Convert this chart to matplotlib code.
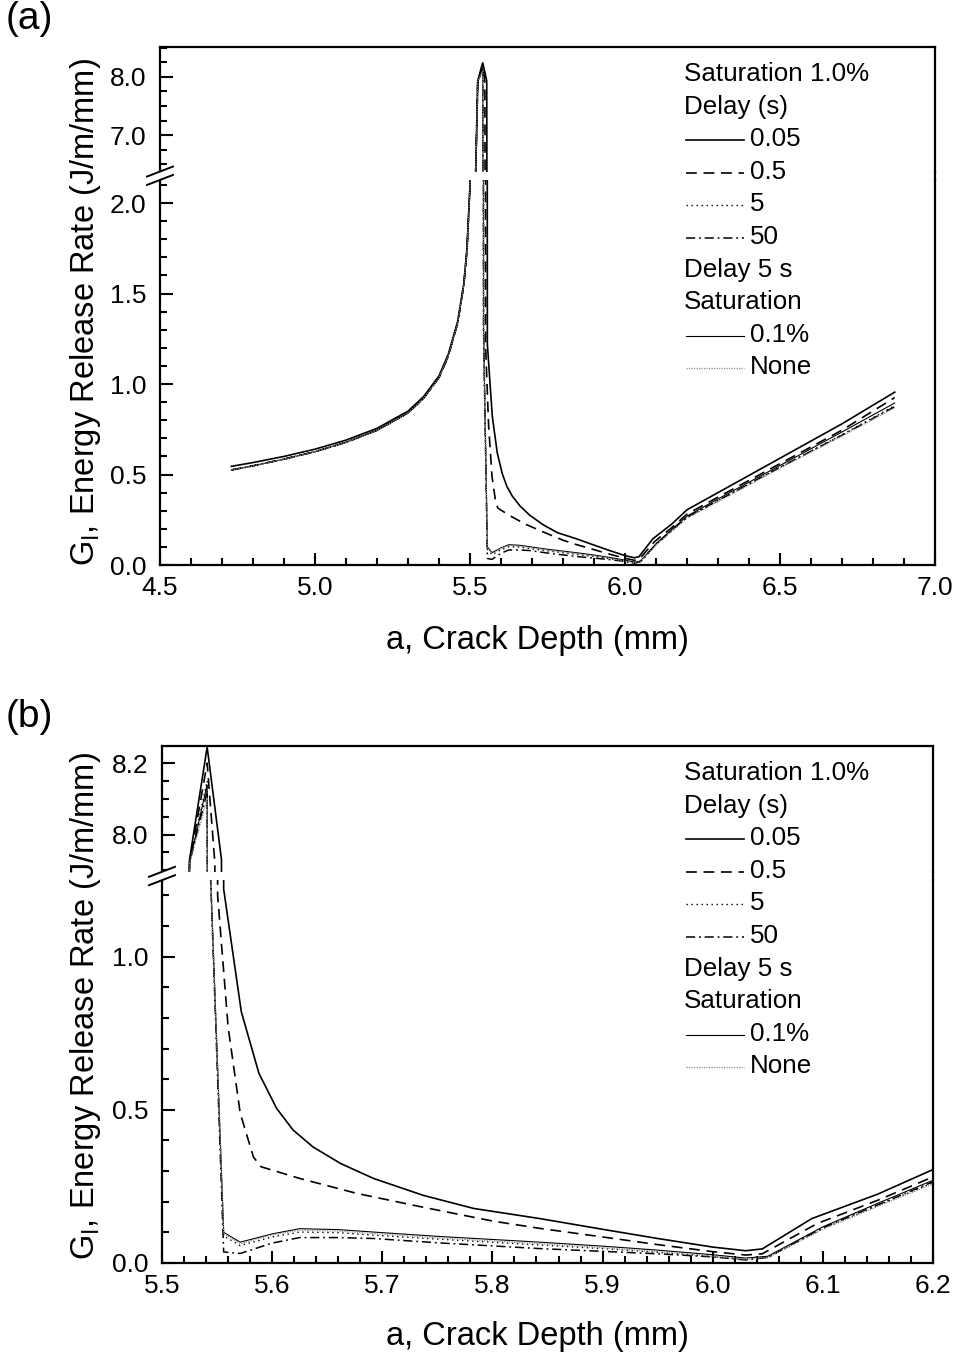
import matplotlib
matplotlib.use("Agg")
import matplotlib.pyplot as plt
from matplotlib.lines import Line2D
from matplotlib.patches import Polygon
from matplotlib.ticker import MultipleLocator, FormatStrFormatter

plt.rcParams['font.family'] = ['Liberation Sans', 'DejaVu Sans']
plt.rcParams['mathtext.default'] = 'regular'

# ---------------- data: crack depth a (mm) and G_I (J/m/mm) ----------------
# rising branch before the critical depth (common to all runs)
a_rise = [4.73, 4.80, 4.90, 5.00, 5.10, 5.20, 5.30, 5.35, 5.40, 5.43, 5.46, 5.48, 5.49, 5.50, 5.525]
G_rise_005 = [0.545, 0.566, 0.600, 0.640, 0.690, 0.755, 0.850, 0.930, 1.045, 1.165, 1.345, 1.555, 1.745, 2.10, 7.93]
G_rise_rest = [0.525, 0.548, 0.585, 0.626, 0.678, 0.744, 0.840, 0.920, 1.035, 1.155, 1.335, 1.545, 1.735, 2.09, 7.92]

# Saturation 1.0 %, delay 0.05 s
a_005 = [5.541, 5.554, 5.556, 5.572, 5.588, 5.604, 5.619, 5.637, 5.662, 5.692, 5.737, 5.783, 5.843,
         5.90, 5.95, 6.00, 6.03, 6.045, 6.09, 6.15, 6.20, 6.30, 6.50, 6.70, 6.87]
G_005 = [8.245, 7.93, 1.22, 0.82, 0.619, 0.505, 0.434, 0.379, 0.325, 0.276, 0.221, 0.178, 0.145,
         0.110, 0.080, 0.052, 0.040, 0.046, 0.145, 0.225, 0.305, 0.400, 0.590, 0.780, 0.955]

# Saturation 1.0 %, delay 0.5 s
a_05 = [5.541, 5.548, 5.5505, 5.560, 5.571, 5.583, 5.590, 5.625, 5.677, 5.737, 5.80, 5.843,
        5.90, 5.95, 6.00, 6.03, 6.045, 6.095, 6.15, 6.20, 6.30, 6.50, 6.70, 6.87]
G_05 = [8.20, 7.92, 1.20, 0.771, 0.489, 0.346, 0.314, 0.276, 0.227, 0.182, 0.137, 0.113,
        0.085, 0.060, 0.037, 0.026, 0.030, 0.129, 0.205, 0.281, 0.375, 0.560, 0.745, 0.925]

# runs that drop to near zero after the peak
a_low = [5.541, 5.5437, 5.556, 5.571, 5.600, 5.625, 5.660, 5.692, 5.750, 5.843, 5.90, 5.95,
         6.00, 6.03, 6.05, 6.10, 6.15, 6.20, 6.30, 6.50, 6.70, 6.87]
G_5 = [8.15, 1.30, 0.088, 0.057, 0.085, 0.101, 0.099, 0.091, 0.078, 0.059, 0.047, 0.035,
       0.021, 0.011, 0.018, 0.112, 0.188, 0.262, 0.355, 0.540, 0.720, 0.880]
G_50 = [8.12, 1.30, 0.036, 0.031, 0.065, 0.083, 0.083, 0.080, 0.066, 0.047, 0.038, 0.030,
        0.020, 0.010, 0.018, 0.115, 0.190, 0.265, 0.356, 0.540, 0.717, 0.875]
G_01 = [8.14, 1.30, 0.100, 0.068, 0.095, 0.112, 0.109, 0.101, 0.087, 0.068, 0.055, 0.042,
        0.027, 0.016, 0.022, 0.118, 0.195, 0.270, 0.365, 0.550, 0.735, 0.895]
G_none = [8.10, 1.30, 0.096, 0.063, 0.092, 0.107, 0.104, 0.096, 0.082, 0.063, 0.050, 0.037,
          0.022, 0.012, 0.018, 0.110, 0.185, 0.258, 0.350, 0.535, 0.712, 0.868]

series = [
    ("0.05", a_rise + a_005, G_rise_005 + G_005, dict(color='black', lw=1.2, ls='-')),
    ("0.5", a_rise + a_05, G_rise_rest + G_05, dict(color='black', lw=1.2, ls=(0, (6.5, 4.0)))),
    ("5", a_rise + a_low, G_rise_rest + G_5, dict(color='black', lw=1.0, ls=(0, (1.0, 2.6)))),
    ("50", a_rise + a_low, G_rise_rest + G_50, dict(color='black', lw=1.1, ls=(0, (6.0, 2.5, 1.2, 2.5)))),
    ("0.1%", a_rise + a_low, G_rise_rest + G_01, dict(color='black', lw=0.8, ls='-')),
    ("None", a_rise + a_low, G_rise_rest + G_none, dict(color='0.55', lw=0.9, ls=(0, (1.0, 1.0)))),
]

legend_rows = ["Saturation 1.0%", "Delay (s)", "0.05", "0.5", "5", "50",
               "Delay 5 s", "Saturation", "0.1%", "None"]

# ---------------- figure ----------------
W, H = 956, 1358
fig = plt.figure(figsize=(W / 100, H / 100), dpi=100)


def fx(px):
    return px / W


def fy(py):
    return 1 - py / H


def rect(x0, y0, x1, y1):
    return [fx(x0), fy(y1), (x1 - x0) / W, (y1 - y0) / H]


SPINE_LW = 1.6
TICK_FS = 19
LEG_FS = 18.7
LAB_FS = 23.5


def style_axis(ax, top_part):
    for s in ax.spines.values():
        s.set_linewidth(SPINE_LW)
    ax.tick_params(which='both', direction='in', right=False, top=False,
                   labelsize=TICK_FS, width=1.5, colors='black')
    ax.tick_params(which='major', length=9)
    ax.tick_params(which='minor', length=5)
    ax.tick_params(axis='y', pad=10)
    ax.tick_params(axis='x', pad=8)
    if top_part:
        ax.spines['bottom'].set_visible(False)
        ax.tick_params(axis='x', which='both', bottom=False, labelbottom=False)
    else:
        ax.spines['top'].set_visible(False)


def panel(x0, x1, top_y, gap_top, gap_bot, bot_y, xlim, ylim_top, ylim_bot,
          xmaj, xmin, xfmt, ymaj_top, ymin_top, yfmt_top, ymaj_bot, ymin_bot):
    axt = fig.add_axes(rect(x0, top_y, x1, gap_top))
    axb = fig.add_axes(rect(x0, gap_bot, x1, bot_y))
    for ax in (axt, axb):
        for name, xs, gs, kw in series:
            ax.plot(xs, gs, solid_joinstyle='miter', **kw)
        ax.set_xlim(*xlim)
        ax.xaxis.set_major_locator(MultipleLocator(xmaj))
        ax.xaxis.set_minor_locator(MultipleLocator(xmin))
        ax.xaxis.set_major_formatter(FormatStrFormatter(xfmt))
    axt.set_ylim(*ylim_top)
    axb.set_ylim(*ylim_bot)
    axt.yaxis.set_major_locator(MultipleLocator(ymaj_top))
    axt.yaxis.set_minor_locator(MultipleLocator(ymin_top))
    axt.yaxis.set_major_formatter(FormatStrFormatter(yfmt_top))
    axb.yaxis.set_major_locator(MultipleLocator(ymaj_bot))
    axb.yaxis.set_minor_locator(MultipleLocator(ymin_bot))
    axb.yaxis.set_major_formatter(FormatStrFormatter('%.1f'))
    style_axis(axt, True)
    style_axis(axb, False)

    # continuous side frame across the axis break
    for xp in (x0, x1):
        fig.lines.append(Line2D([fx(xp), fx(xp)], [fy(gap_top), fy(gap_bot)],
                                transform=fig.transFigure, color='black', lw=SPINE_LW))
    # break marks on the left axis
    mid = 0.5 * (gap_top + gap_bot)
    d1, d2 = mid - 4.2, mid + 4.2
    xa, xb = x0 - 13, x0 + 13
    fig.patches.append(Polygon([(fx(xa), fy(d1 + 5)), (fx(xb), fy(d1 - 5)),
                                (fx(xb), fy(d2 - 5)), (fx(xa), fy(d2 + 5))],
                               closed=True, transform=fig.transFigure,
                               facecolor='white', edgecolor='none', zorder=3))
    for d in (d1, d2):
        fig.lines.append(Line2D([fx(xa), fx(xb)], [fy(d + 5), fy(d - 5)],
                                transform=fig.transFigure, color='black', lw=1.4, zorder=4))

    # legend written as a labelled list inside the panel
    row0 = top_y + 27
    step = 32.6
    for i, txt in enumerate(legend_rows):
        yc = row0 + i * step
        match = [s for s in series if s[0] == txt]
        if match and i not in (0, 1, 6, 7):
            kw = match[0][3]
            fig.lines.append(Line2D([fx(686), fx(744)], [fy(yc + 1), fy(yc + 1)],
                                    transform=fig.transFigure, color=kw['color'],
                                    lw=kw['lw'], ls=kw['ls']))
            fig.text(fx(750), fy(yc), txt, fontsize=LEG_FS, va='center', ha='left')
        else:
            fig.text(fx(684), fy(yc), txt, fontsize=LEG_FS, va='center', ha='left')
    return axt, axb


# panel (a)
panel(160, 935, 47, 172, 179.5, 565, (4.5, 7.0), (6.37, 8.51), (0.0, 2.13),
      0.5, 0.1, '%.1f', 1.0, 0.25, '%.1f', 0.5, 0.1)
# panel (b)
panel(162, 933, 746, 872, 880, 1263, (5.5, 6.2), (7.895, 8.248), (0.0, 1.25),
      0.1, 0.02, '%.1f', 0.2, 0.05, '%.1f', 0.5, 0.1)

ylab = r'G$_\mathregular{I}$, Energy Release Rate (J/m/mm)'
xlab = 'a, Crack Depth (mm)'
fig.text(fx(86), fy(312), ylab, rotation=90, fontsize=LAB_FS, ha='center', va='center')
fig.text(fx(86), fy(1006), ylab, rotation=90, fontsize=LAB_FS, ha='center', va='center')
fig.text(fx(537), fy(640), xlab, fontsize=LAB_FS, ha='center', va='center')
fig.text(fx(537), fy(1337), xlab, fontsize=LAB_FS, ha='center', va='center')
fig.text(fx(6), fy(19), '(a)', fontsize=28, ha='left', va='center')
fig.text(fx(6), fy(717), '(b)', fontsize=28, ha='left', va='center')

fig.savefig('out.png', dpi=100, facecolor='white')
